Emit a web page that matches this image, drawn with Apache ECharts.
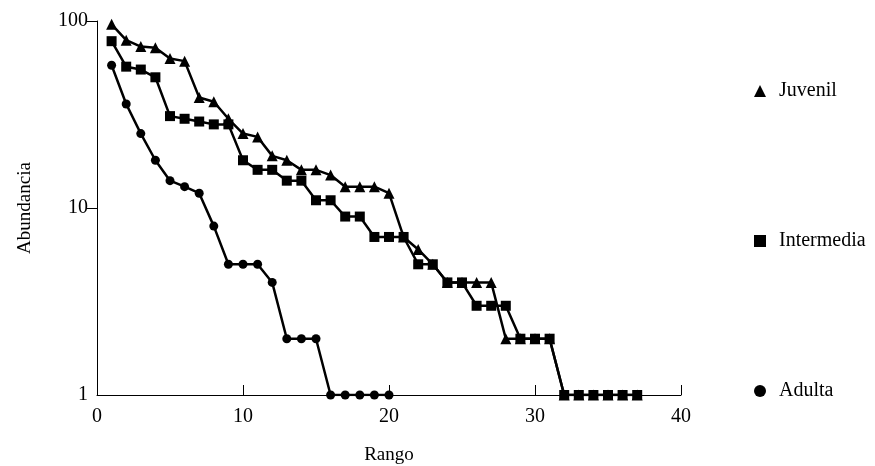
<!DOCTYPE html>
<html>
<head>
<meta charset="utf-8">
<script src="https://cdn.jsdelivr.net/npm/echarts@6/dist/echarts.min.js"></script>
<style>html,body{margin:0;padding:0;background:#fff;}#c{width:875px;height:466px;}</style>
</head>
<body>
<div id="c"></div>
<script>
const rankJuvenil = [1,2,3,4,5,6,7,8,9,10,11,12,13,14,15,16,17,18,19,20,21,22,23,24,25,26,27,28,29,30,31,32,33,34,35,36,37];
const juvenil = [96,79,73,72,63,61,39,37,30,25,24,19,18,16,16,15,13,13,13,12,7,6,5,4,4,4,4,2,2,2,2,1,1,1,1,1,1];
const rankIntermedia = [1,2,3,4,5,6,7,8,9,10,11,12,13,14,15,16,17,18,19,20,21,22,23,24,25,26,27,28,29,30,31,32,33,34,35,36,37];
const intermedia = [78,57,55,50,31,30,29,28,28,18,16,16,14,14,11,11,9,9,7,7,7,5,5,4,4,3,3,3,2,2,2,1,1,1,1,1,1];
const rankAdulta = [1,2,3,4,5,6,7,8,9,10,11,12,13,14,15,16,17,18,19,20];
const adulta = [58,36,25,18,14,13,12,8,5,5,5,4,2,2,2,1,1,1,1,1];
const xTicks = [0,10,20,30,40];
const yTicks = [1,10,100];

const pairs = (xs, ys) => xs.map((x, i) => [x, ys[i]]);
const font = '"Liberation Serif", "Times New Roman", serif';

const chart = echarts.init(document.getElementById('c'), null, {renderer: 'canvas'});
chart.setOption({
  animation: false,
  backgroundColor: '#fff',
  textStyle: {fontFamily: font, color: '#000'},
  grid: {left: 97, right: 194, top: 21, bottom: 71, containLabel: false, outerBoundsMode: 'none'},
  legend: {
    orient: 'vertical',
    left: 749,
    top: 76,
    itemWidth: 12,
    itemHeight: 12,
    itemGap: 130,
    textStyle: {fontFamily: font, fontSize: 20, color: '#000', padding: [0, 0, 0, 8]},
    data: [
      {name: 'Juvenil', icon: 'triangle'},
      {name: 'Intermedia', icon: 'rect'},
      {name: 'Adulta', icon: 'circle'}
    ]
  },
  xAxis: {
    type: 'value',
    min: xTicks[0],
    max: xTicks[xTicks.length - 1],
    interval: 10,
    name: 'Rango',
    nameLocation: 'middle',
    nameGap: 51,
    nameTextStyle: {fontFamily: font, fontSize: 19, color: '#000'},
    axisLine: {lineStyle: {color: '#000', width: 1}},
    axisTick: {inside: true, length: 10, lineStyle: {color: '#000'}},
    axisLabel: {fontFamily: font, fontSize: 20, color: '#000', margin: 12},
    splitLine: {show: false}
  },
  yAxis: {
    type: 'log',
    logBase: 10,
    min: yTicks[0],
    max: yTicks[yTicks.length - 1],
    name: 'Abundancia',
    nameLocation: 'middle',
    nameGap: 62,
    nameRotate: 90,
    nameTextStyle: {fontFamily: font, fontSize: 19, color: '#000'},
    axisLine: {show: true, lineStyle: {color: '#000', width: 1}},
    axisTick: {show: true, length: 10, customValues: [10, 100], lineStyle: {color: '#000'}},
    axisLabel: {fontFamily: font, fontSize: 20, color: '#000', margin: 9, customValues: yTicks},
    splitLine: {show: false}
  },
  series: [
    {
      name: 'Adulta', type: 'line', data: pairs(rankAdulta, adulta),
      symbol: 'circle', symbolSize: 9, z: 2,
      lineStyle: {color: '#000', width: 2.5}, itemStyle: {color: '#000'}
    },
    {
      name: 'Juvenil', type: 'line', data: pairs(rankJuvenil, juvenil),
      symbol: 'triangle', symbolSize: 11, z: 3,
      lineStyle: {color: '#000', width: 2.5}, itemStyle: {color: '#000'}
    },
    {
      name: 'Intermedia', type: 'line', data: pairs(rankIntermedia, intermedia),
      symbol: 'rect', symbolSize: 10, z: 4,
      lineStyle: {color: '#000', width: 2.5}, itemStyle: {color: '#000'}
    }
  ]
});
</script>
</body>
</html>
